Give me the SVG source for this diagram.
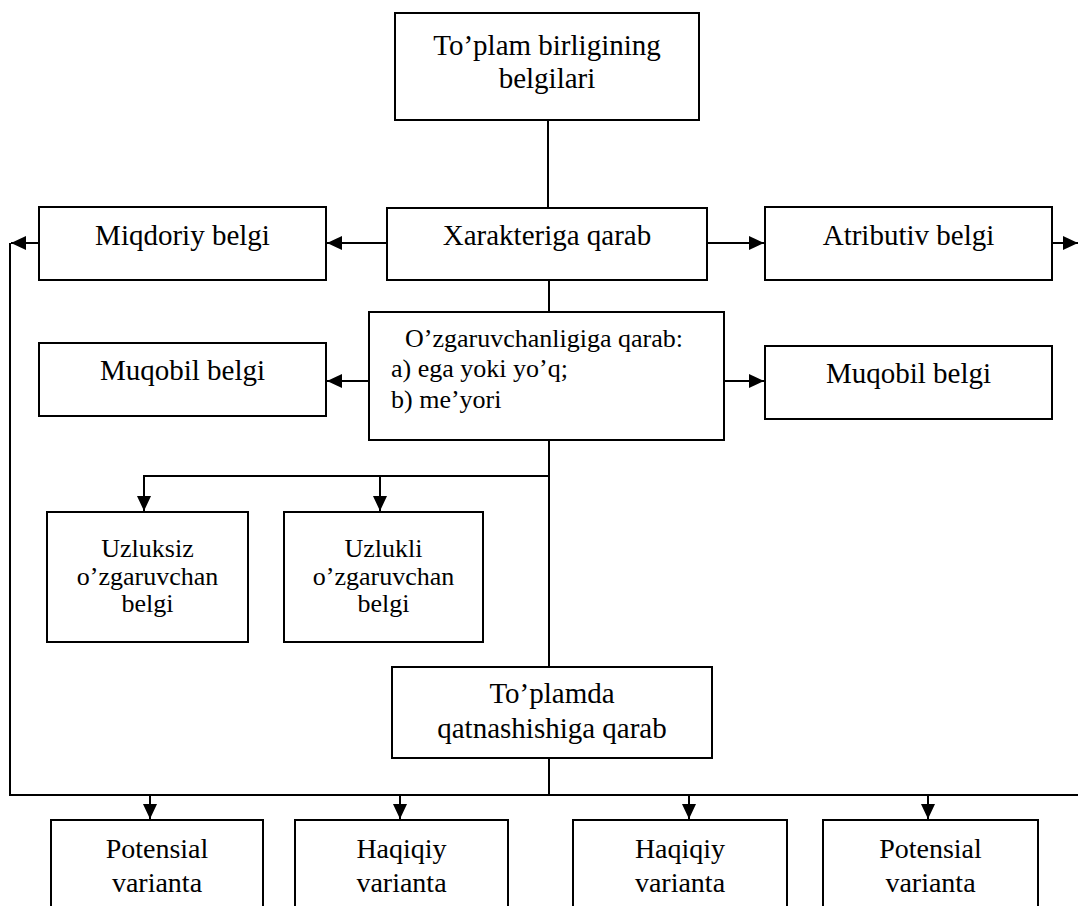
<svg xmlns="http://www.w3.org/2000/svg" width="1078" height="906" viewBox="0 0 1078 906">
<style>
.box{fill:#fff;stroke:#000;stroke-width:2}
.ln{fill:none;stroke:#000;stroke-width:2}
text{font-family:'Liberation Serif','DejaVu Serif',serif;font-size:29px;fill:#000;text-anchor:middle}
.s{font-size:26px}
.b{font-size:28px}
.l{text-anchor:start}
</style>
<defs>
<marker id="ah" markerUnits="userSpaceOnUse" markerWidth="16" markerHeight="16" viewBox="0 0 16 16" refX="15" refY="8" orient="auto">
<path d="M0,1 L15,8 L0,15 Z" fill="#000"/>
</marker>
</defs>
<rect width="1078" height="906" fill="#fff"/>
<g id="connectors">
<line class="ln" x1="548" y1="120" x2="548" y2="208"/>
<line class="ln" x1="387" y1="243" x2="327" y2="243" marker-end="url(#ah)"/>
<line class="ln" x1="707" y1="243" x2="764" y2="243" marker-end="url(#ah)"/>
<line class="ln" x1="39" y1="243" x2="11" y2="243" marker-end="url(#ah)"/>
<line class="ln" x1="1052" y1="243" x2="1078" y2="243" marker-end="url(#ah)"/>
<line class="ln" x1="549" y1="280" x2="549" y2="312"/>
<line class="ln" x1="369" y1="381" x2="327" y2="381" marker-end="url(#ah)"/>
<line class="ln" x1="724" y1="381" x2="764" y2="381" marker-end="url(#ah)"/>
<line class="ln" x1="549" y1="440" x2="549" y2="667"/>
<polyline class="ln" points="144,509 144,476 549,476"/>
<line class="ln" x1="144" y1="476" x2="144" y2="511" marker-end="url(#ah)"/>
<line class="ln" x1="380" y1="476" x2="380" y2="511" marker-end="url(#ah)"/>
<line class="ln" x1="549" y1="758" x2="549" y2="795"/>
<polyline class="ln" points="10,243 10,795 1078,795"/>
<line class="ln" x1="150" y1="795" x2="150" y2="819" marker-end="url(#ah)"/>
<line class="ln" x1="400" y1="795" x2="400" y2="819" marker-end="url(#ah)"/>
<line class="ln" x1="689" y1="795" x2="689" y2="819" marker-end="url(#ah)"/>
<line class="ln" x1="928" y1="795" x2="928" y2="819" marker-end="url(#ah)"/>
</g>
<g id="n-top">
<rect class="box" x="395" y="13" width="304" height="107"/>
<text x="547" y="55">To’plam birligining</text>
<text x="547" y="88">belgilari</text>
</g>
<g id="n-xarakter">
<rect class="box" x="387" y="208" width="320" height="72"/>
<text x="547" y="245">Xarakteriga qarab</text>
</g>
<g id="n-miqdoriy">
<rect class="box" x="39" y="207" width="287" height="73"/>
<text x="182.5" y="245">Miqdoriy belgi</text>
</g>
<g id="n-atributiv">
<rect class="box" x="765" y="207" width="287" height="73"/>
<text x="908.5" y="245">Atributiv belgi</text>
</g>
<g id="n-ozgar">
<rect class="box" x="369" y="312" width="355" height="128"/>
<text class="s l" x="405" y="347">O’zgaruvchanligiga qarab:</text>
<text class="s l" x="391" y="377">a) ega yoki yo’q;</text>
<text class="s l" x="391" y="408">b) me’yori</text>
</g>
<g id="n-muqobil-l">
<rect class="box" x="39" y="343" width="287" height="73"/>
<text x="182.5" y="380">Muqobil belgi</text>
</g>
<g id="n-muqobil-r">
<rect class="box" x="765" y="346" width="287" height="73"/>
<text x="908.5" y="383">Muqobil belgi</text>
</g>
<g id="n-uzluksiz">
<rect class="box" x="47" y="512" width="201" height="130"/>
<text class="s" x="147.5" y="557">Uzluksiz</text>
<text class="s" x="147.5" y="585">o’zgaruvchan</text>
<text class="s" x="147.5" y="612">belgi</text>
</g>
<g id="n-uzlukli">
<rect class="box" x="284" y="512" width="199" height="130"/>
<text class="s" x="383.5" y="557">Uzlukli</text>
<text class="s" x="383.5" y="585">o’zgaruvchan</text>
<text class="s" x="383.5" y="612">belgi</text>
</g>
<g id="n-toplamda">
<rect class="box" x="392" y="667" width="320" height="91"/>
<text x="552" y="703">To’plamda</text>
<text x="552" y="738">qatnashishiga qarab</text>
</g>
<g id="n-pot1">
<rect class="box" x="51" y="820" width="212" height="110"/>
<text class="b" x="157" y="858">Potensial</text>
<text class="b" x="157" y="892">varianta</text>
</g>
<g id="n-haq1">
<rect class="box" x="295" y="820" width="213" height="110"/>
<text class="b" x="401.5" y="858">Haqiqiy</text>
<text class="b" x="401.5" y="892">varianta</text>
</g>
<g id="n-haq2">
<rect class="box" x="573" y="820" width="214" height="110"/>
<text class="b" x="680" y="858">Haqiqiy</text>
<text class="b" x="680" y="892">varianta</text>
</g>
<g id="n-pot2">
<rect class="box" x="823" y="820" width="215" height="110"/>
<text class="b" x="930.5" y="858">Potensial</text>
<text class="b" x="930.5" y="892">varianta</text>
</g>
</svg>
